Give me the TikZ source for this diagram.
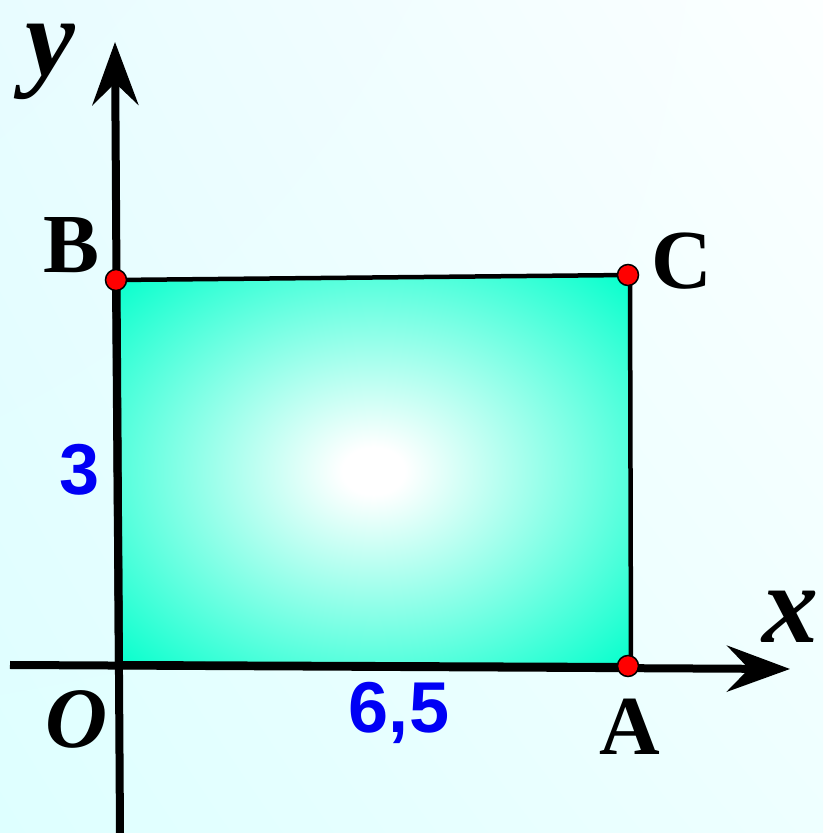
\documentclass[tikz,border=0pt]{standalone}
\usepackage{fontspec}
\setmainfont{Liberation Serif}
\newfontfamily\numfont{Liberation Sans}
\usetikzlibrary{arrows.meta,shadings}
\definecolor{rectout}{RGB}{14,255,206}
\definecolor{numblue}{RGB}{0,0,245}
\definecolor{bgul}{RGB}{232,252,255}
\definecolor{bgur}{RGB}{252,255,255}
\definecolor{bgll}{RGB}{222,255,255}
\definecolor{bglr}{RGB}{238,255,255}
\pgfdeclareradialshading{rectglow}{\pgfpoint{0bp}{0bp}}{color(0bp)=(white); color(3bp)=(white); color(34bp)=(rectout); color(50bp)=(rectout)}
\begin{document}
\begin{tikzpicture}[x=1pt,y=1pt,
  axis/.style={line width=8pt, -{Stealth[length=63pt,width=46pt,inset=22pt]}},
  edge/.style={line width=4.5pt},
  thickedge/.style={line width=8pt},
  dot/.style={circle, fill=red, draw=black, line width=1.5pt, minimum size=21pt, inner sep=0pt},
  ptlabel/.style={font=\fontsize{84}{84}\selectfont\bfseries, anchor=base, inner sep=0pt},
  axlabel/.style={font=\fontsize{112}{112}\selectfont\bfseries\itshape, anchor=base, inner sep=0pt},
  numlabel/.style={font=\numfont\fontsize{72}{72}\selectfont\bfseries, text=numblue, anchor=base, inner sep=0pt}]
\useasboundingbox (0,0) rectangle (823,833);
\shade[upper left=bgul, upper right=bgur, lower left=bgll, lower right=bglr] (0,0) rectangle (823,833);
\coordinate (O) at (119,168);
\coordinate (A) at (631,166);
\coordinate (B) at (116,553);
\coordinate (C) at (630,558);
\coordinate (ybot) at (120,0);
\coordinate (ytip) at (115,791);
\coordinate (xleft) at (10,168);
\coordinate (xtip) at (790,164);
\shade[shading=rectglow] (O) -- (B) -- (C) -- (A) -- cycle;
\draw[edge, line join=miter] (B) -- (C) -- (A);
\draw[thickedge] (B) -- (O) -- (A);
\draw[axis] (ybot) -- (ytip);
\draw[axis] (xleft) -- (xtip);
\node[dot] (Bdot) at (B) {};
\node[dot] (Cdot) at (628,558) {};
\node[dot] (Adot) at (628,167) {};
\node[axlabel] (ylab) at (50,757) {y};
\node[axlabel] (xlab) at (790,190) {x};
\node[ptlabel] (Blab) at (72,560) {B};
\node[ptlabel] (Clab) at (682,544) {C};
\node[ptlabel] (Alab) at (630,78) {A};
\node[ptlabel, font=\fontsize{86}{86}\selectfont\bfseries\itshape] (Olab) at (77,85) {O};
\node[numlabel] (len) at (399,100) {6,5};
\node[numlabel] (wid) at (80,338) {3};
\end{tikzpicture}
\end{document}
